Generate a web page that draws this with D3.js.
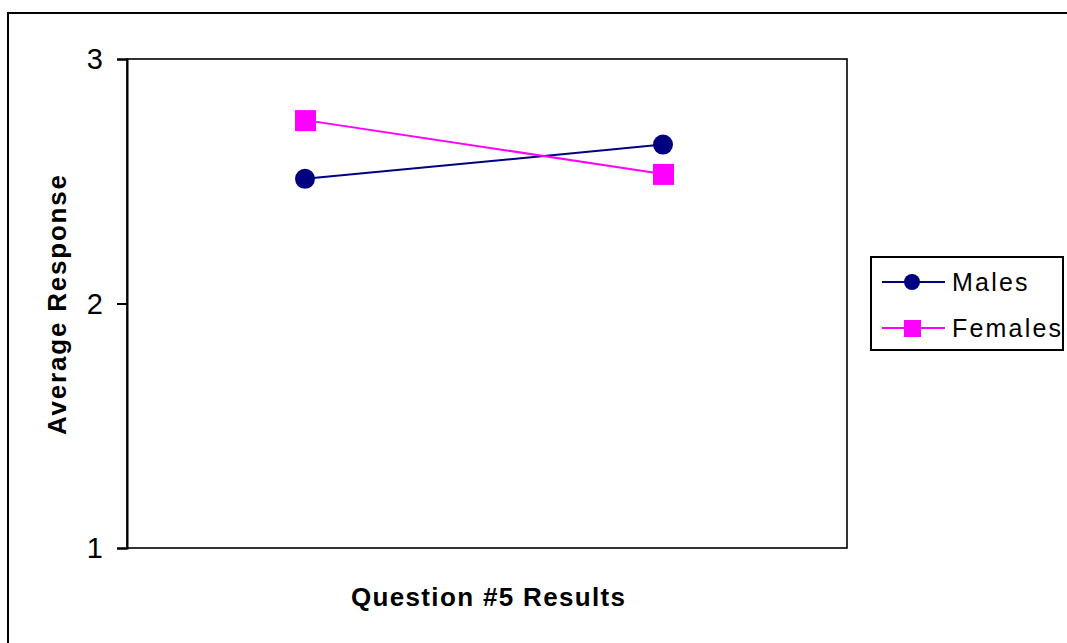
<!DOCTYPE html>
<html><head><meta charset="utf-8">
<script src="https://cdn.jsdelivr.net/npm/d3@7"></script>
<style>
body{margin:0;background:#fff;}
svg{display:block;font-family:"Liberation Sans",Arial,sans-serif;}
</style></head>
<body>
<svg id="c" width="1067" height="643"></svg>
<script>
const categories = ["1", "2"];
const males = [2.51, 2.65];
const females = [2.75, 2.53];
const yTicks = [1, 2, 3];
const seriesNames = ["Males", "Females"];

const svg = d3.select("#c");
const W = 1067, H = 643;
const plot = {l: 127, t: 59, r: 847, b: 548};

// outer border
svg.append("rect").attr("x", 8).attr("y", 13).attr("width", W).attr("height", H)
  .attr("fill", "none").attr("stroke", "#000").attr("stroke-width", 2);

const x = d3.scalePoint().domain(categories).range([plot.l - 1, plot.r - 5]).padding(0.5);
const y = d3.scaleLinear().domain([1, 3]).range([plot.b, plot.t]);

// plot frame
svg.append("rect").attr("x", plot.l).attr("y", plot.t)
  .attr("width", plot.r - plot.l).attr("height", plot.b - plot.t)
  .attr("fill", "none").attr("stroke", "#000").attr("stroke-width", 1.6);

// y axis
const yAxis = d3.axisLeft(y).tickValues(yTicks).tickFormat(d3.format("d")).tickSize(10).tickPadding(14);
const ga = svg.append("g").attr("transform", `translate(${plot.l},0)`).call(yAxis);
ga.select(".domain").attr("stroke", "#000").attr("stroke-width", 2);
ga.selectAll(".tick line").attr("stroke", "#000").attr("stroke-width", 2);
ga.selectAll(".tick text").attr("font-size", 29).attr("fill", "#000")
  .attr("font-family", "'Liberation Sans',Arial,sans-serif").attr("dy", "0.34em");

// lines
const series = [
  {name: seriesNames[0], values: males, color: "#000080", shape: "circle"},
  {name: seriesNames[1], values: females, color: "#FF00FF", shape: "square"}
];
const line = d3.line().x((d, i) => x(categories[i])).y(d => y(d));

series.forEach(s => {
  svg.append("path").datum(s.values).attr("d", line)
    .attr("fill", "none").attr("stroke", s.color).attr("stroke-width", 2);
});
series.forEach(s => {
  s.values.forEach((v, i) => {
    const cx = x(categories[i]), cy = y(v);
    if (s.shape === "circle") {
      svg.append("circle").attr("cx", cx).attr("cy", cy).attr("r", 10).attr("fill", s.color);
    } else {
      svg.append("rect").attr("x", cx - 10).attr("y", cy - 10).attr("width", 21).attr("height", 21)
        .attr("fill", s.color);
    }
  });
});

// axis titles
svg.append("text").attr("x", 488).attr("y", 606).attr("text-anchor", "middle")
  .attr("font-size", 26).attr("font-weight", "bold").attr("fill", "#000")
  .attr("textLength", 274).attr("lengthAdjust", "spacing")
  .text("Question #5 Results");

svg.append("text").attr("transform", "translate(66,305) rotate(-90)")
  .attr("text-anchor", "middle")
  .attr("font-size", 26).attr("font-weight", "bold").attr("fill", "#000")
  .attr("textLength", 260).attr("lengthAdjust", "spacing")
  .text("Average Response");

// legend
const lg = svg.append("g");
lg.append("rect").attr("x", 871).attr("y", 257).attr("width", 192).attr("height", 93)
  .attr("fill", "#fff").attr("stroke", "#000").attr("stroke-width", 2);
const rowsY = [282, 328];
series.forEach((s, i) => {
  const yy = rowsY[i];
  lg.append("line").attr("x1", 882).attr("x2", 945).attr("y1", yy).attr("y2", yy)
    .attr("stroke", s.color).attr("stroke-width", 2);
  if (s.shape === "circle") {
    lg.append("circle").attr("cx", 912).attr("cy", yy).attr("r", 8).attr("fill", s.color);
  } else {
    lg.append("rect").attr("x", 904).attr("y", yy - 8).attr("width", 17).attr("height", 17).attr("fill", s.color);
  }
  lg.append("text").attr("x", 952).attr("y", yy).attr("dy", "0.36em")
    .attr("font-size", 25).attr("fill", "#000").attr("letter-spacing", 2.2)
    .text(s.name);
});
</script>
</body></html>
